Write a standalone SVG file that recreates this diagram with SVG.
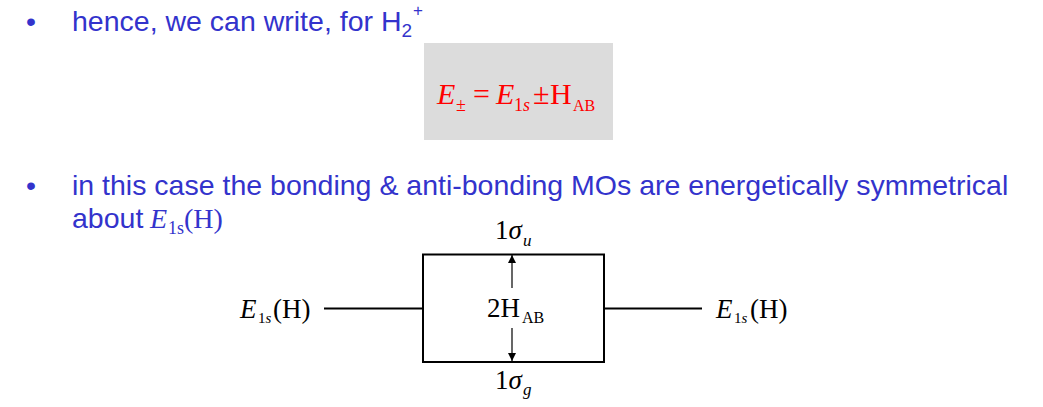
<svg xmlns="http://www.w3.org/2000/svg" width="1043" height="407" viewBox="0 0 1043 407">
<style>
.txt{font-family:"Liberation Sans",Arial,sans-serif;font-size:28.5px;fill:#3333CC}
.m{font-family:"Liberation Serif","Times New Roman",serif;fill:#000}
.it{font-style:italic}
.red{fill:#FF0000}
.blue{fill:#3333CC}
.ln{stroke:#000;stroke-width:2;fill:none}
.ar{stroke:#000;stroke-width:1.2;fill:none}
</style>
<defs>
<marker id="ah" viewBox="0 0 10 10" refX="10" refY="5" markerWidth="8" markerHeight="8" markerUnits="userSpaceOnUse" orient="auto">
<path d="M0,0 L10,5 L0,10 z" fill="#000"/>
</marker>
</defs>
<g id="bullet1">
<text class="txt" x="26" y="31">•</text>
<text class="txt" x="72" y="31" font-size="29">hence, we can write, for H<tspan font-size="19" dy="6">2</tspan><tspan font-size="17" dx="1" dy="-21">+</tspan></text>
</g>
<g id="formula">
<rect x="424" y="43" width="189" height="97" fill="#DCDCDC"/>
<text class="m red it" x="437" y="104" font-size="30">E</text>
<text class="m red" x="456" y="111" font-size="18">±</text>
<text class="m red" x="473" y="104" font-size="30">=</text>
<text class="m red it" x="496" y="104" font-size="30">E</text>
<text class="m red" x="514" y="111" font-size="18">1<tspan class="it">s</tspan></text>
<text class="m red" x="533" y="104" font-size="30">±</text>
<text class="m red" x="550" y="104" font-size="30">H</text>
<text class="m red" x="573" y="111" font-size="16">AB</text>
</g>
<g id="bullet2">
<text class="txt" x="26" y="195">•</text>
<text class="txt" x="72" y="195">in this case the bonding &amp; anti-bonding MOs are energetically symmetrical</text>
<text class="txt" x="72" y="228">about</text>
<text class="m blue it" x="150" y="228" font-size="28">E</text>
<text class="m blue" x="168" y="234" font-size="18">1s</text>
<text class="m blue" x="184" y="228" font-size="28">(H)</text>
</g>
<g id="connectors">
<line class="ln" x1="324" y1="308.5" x2="423" y2="308.5"/>
<line class="ln" x1="604" y1="308.5" x2="702" y2="308.5"/>
<line class="ar" x1="512" y1="288" x2="512" y2="255" marker-end="url(#ah)"/>
<line class="ar" x1="512" y1="328" x2="512" y2="361" marker-end="url(#ah)"/>
</g>
<g id="mo-box">
<rect class="ln" x="423" y="254.5" width="181" height="107.5"/>
<text class="m" x="487" y="317" font-size="27">2H</text>
<text class="m" x="522" y="323" font-size="16">AB</text>
</g>
<g id="sigma-u">
<text class="m" x="495" y="239" font-size="27">1<tspan class="it">σ</tspan></text>
<text class="m it" x="523" y="246" font-size="17">u</text>
</g>
<g id="sigma-g">
<text class="m" x="495" y="389" font-size="27">1<tspan class="it">σ</tspan></text>
<text class="m it" x="523" y="395" font-size="17">g</text>
</g>
<g id="left-level">
<text class="m it" x="240" y="318" font-size="27">E</text>
<text class="m" x="258" y="323" font-size="15">1<tspan class="it">s</tspan></text>
<text class="m" x="273" y="318" font-size="27">(H)</text>
</g>
<g id="right-level">
<text class="m it" x="716" y="318" font-size="27">E</text>
<text class="m" x="734" y="323" font-size="15">1<tspan class="it">s</tspan></text>
<text class="m" x="750" y="318" font-size="27">(H)</text>
</g>
</svg>
